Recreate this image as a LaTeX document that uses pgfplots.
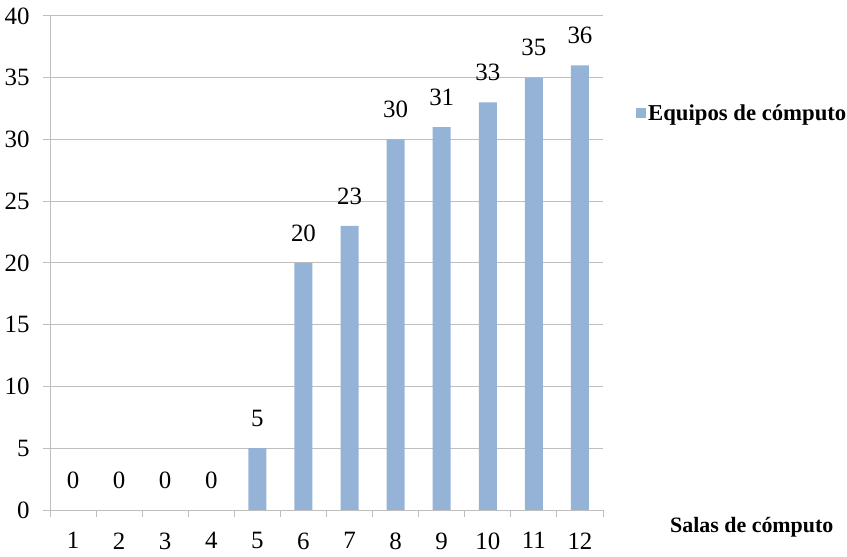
\documentclass[border=0pt]{standalone}
\usepackage{fontspec}
\setmainfont{Liberation Serif}
\usepackage{pgfplots}
\pgfplotsset{compat=1.18}
\definecolor{barblue}{RGB}{149,179,215}
\definecolor{gridgray}{RGB}{190,190,190}
\begin{document}
\begin{tikzpicture}
\begin{axis}[
  at={(50bp,47bp)}, anchor=south west,
  scale only axis, width=553bp, height=494bp,
  xmin=0.5, xmax=12.5, ymin=0, ymax=40,
  ytick={0,5,...,40}, xtick={1,...,12},
  minor xtick={0.5,1.5,...,12.5},
  ymajorgrids, grid style={gridgray, line width=1bp},
  axis x line*=bottom, axis y line*=left,
  axis line style={gridgray, line width=1bp},
  tick style={gridgray, line width=1bp},
  tick align=outside, major tick length=7bp, minor tick length=7bp,
  major x tick style={draw=none},
  /pgf/number format/assume math mode=true,
  ticklabel style={font=\fontsize{25}{25}\selectfont, black},
  xticklabel style={yshift=-12bp},
  yticklabel style={xshift=-10bp},
  xlabel={\textbf{Salas de cómputo}},
  xlabel style={at={(axis description cs:1.269,-0.034)}, anchor=center, font=\fontsize{22}{22}\selectfont},
  legend style={at={(axis description cs:1.0597,0.8036)}, anchor=west, draw=none, fill=none,
    font=\bfseries\fontsize{22.8}{22.8}\selectfont, inner sep=0pt},
  ybar, bar width=18bp,
  nodes near coords,
  every node near coord/.append style={font=\fontsize{25}{25}\selectfont, black, yshift=18bp},
]
\addplot[fill=barblue, draw=none,
  legend image code/.code={\path[draw=none, fill=barblue] (0bp,-5bp) rectangle (10bp,5bp);}]
 coordinates {
 (1,0) (2,0) (3,0) (4,0) (5,5) (6,20) (7,23) (8,30) (9,31) (10,33) (11,35) (12,36)};
\addlegendentry{Equipos de cómputo}
\end{axis}
\pgfresetboundingbox
\useasboundingbox (0,0) rectangle (847bp,557bp);
\end{tikzpicture}
\end{document}
